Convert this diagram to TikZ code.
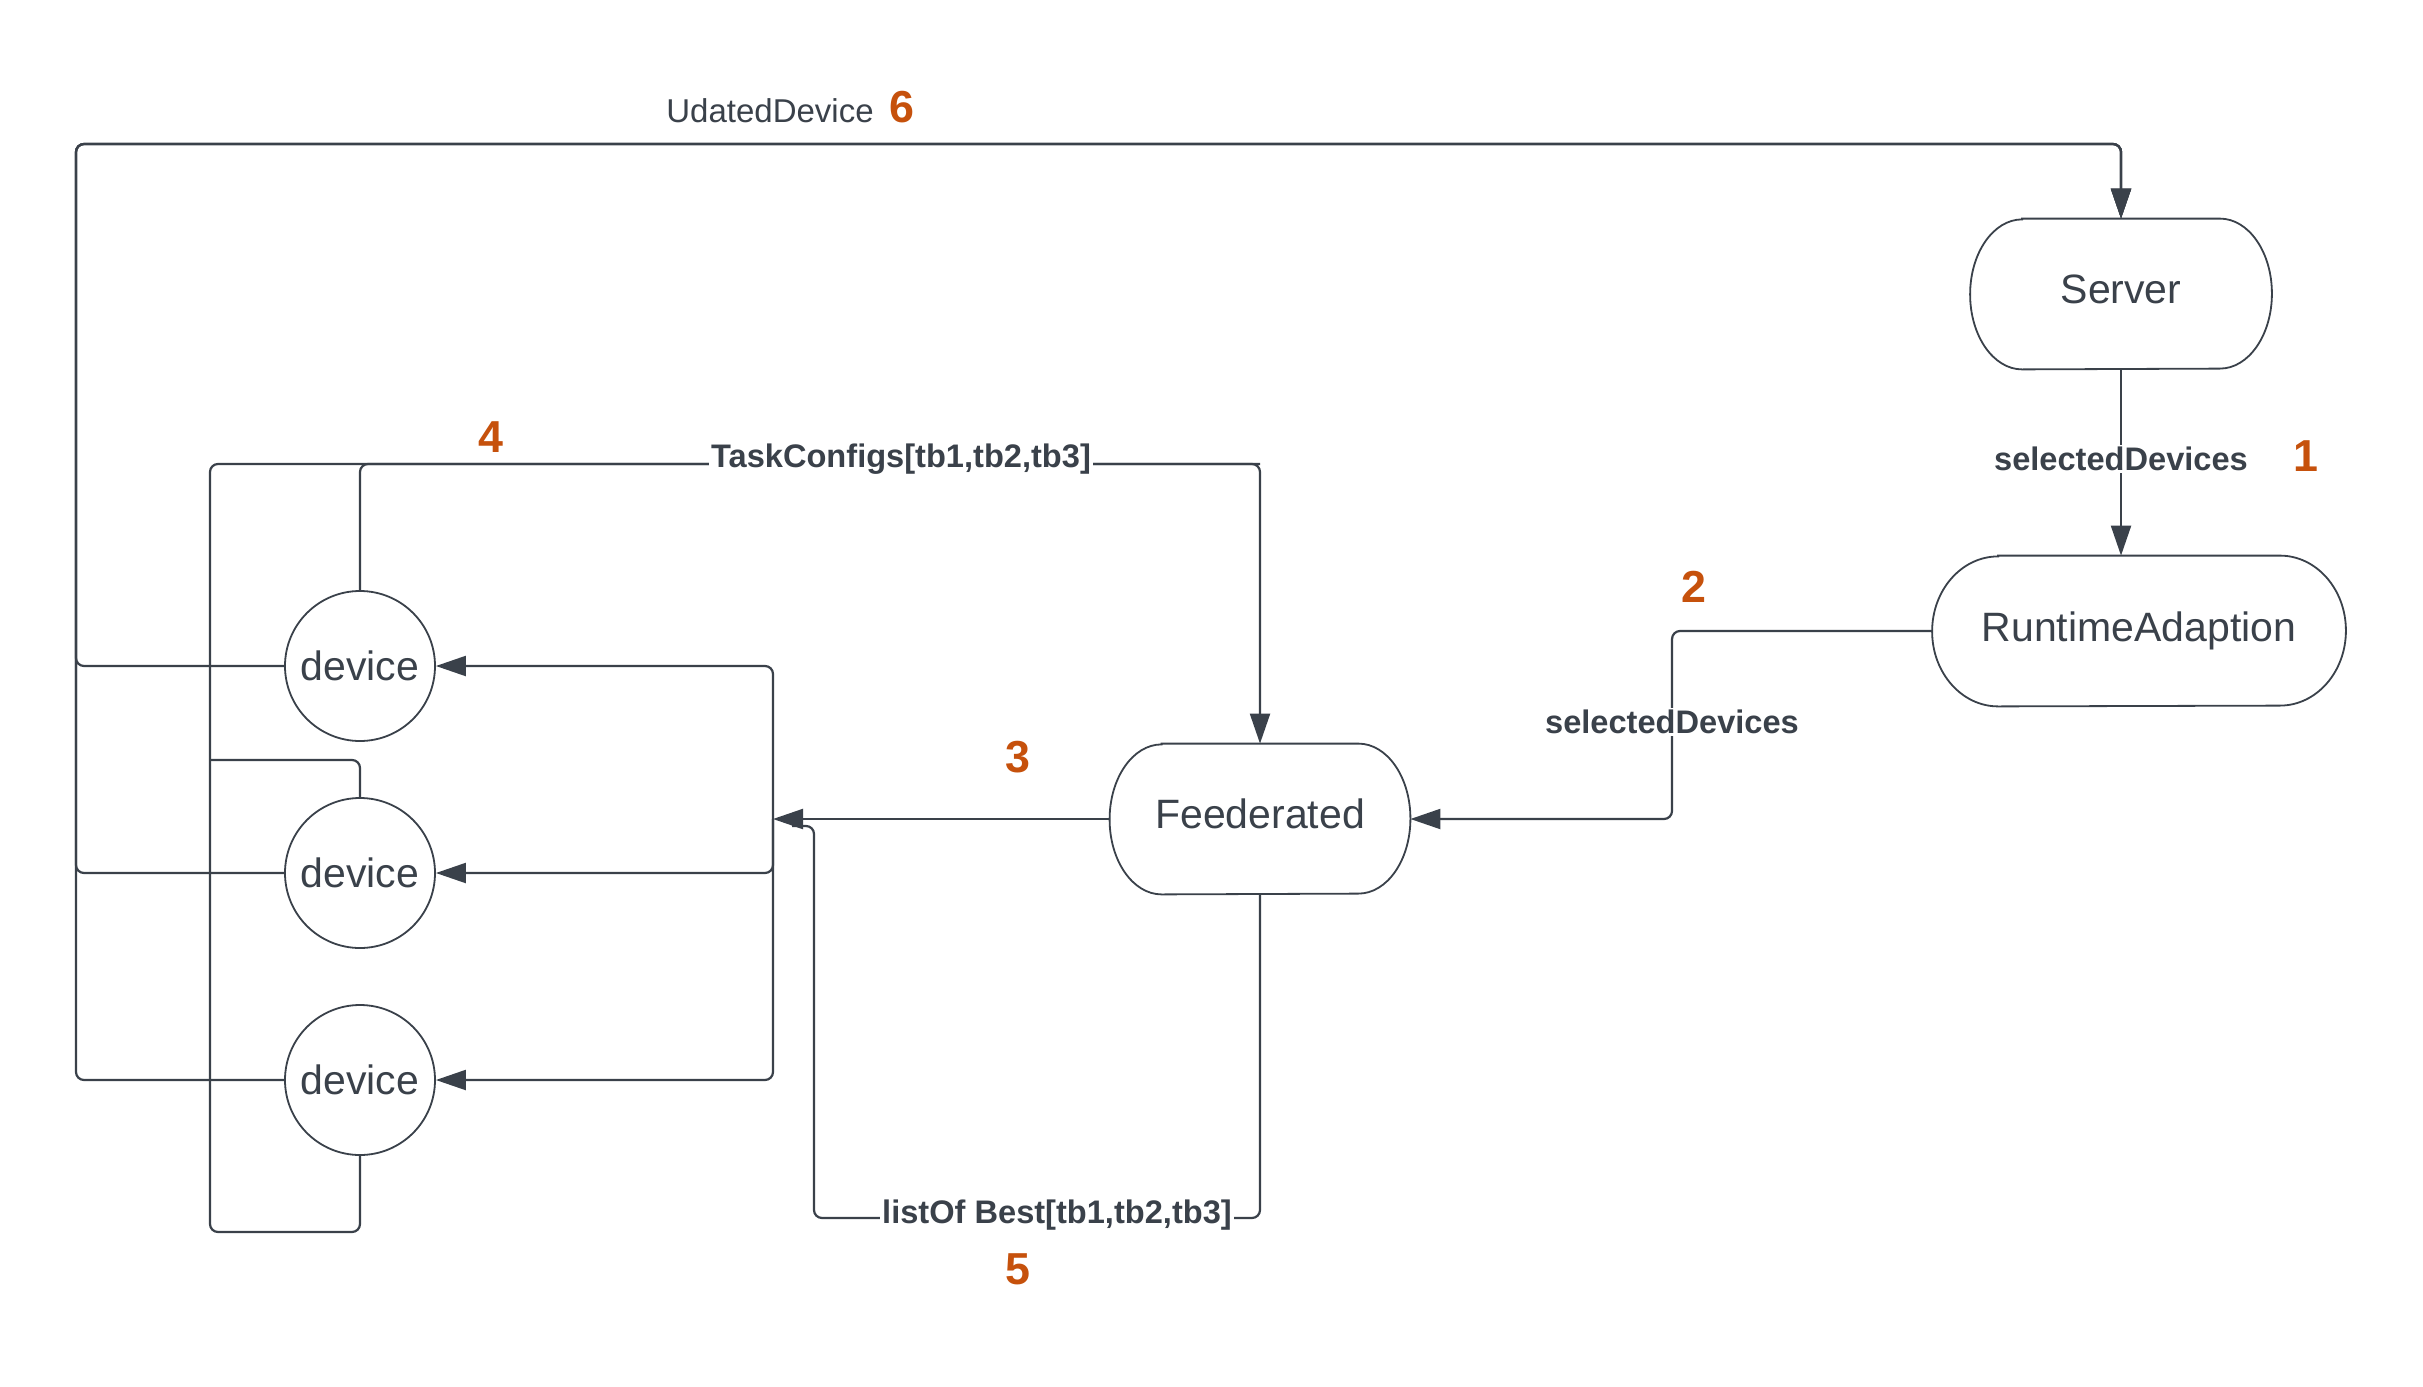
\documentclass[tikz,border=0pt]{standalone}
\usepackage{fontspec}
\setmainfont{Liberation Sans}
\usetikzlibrary{arrows.meta}
\definecolor{ink}{HTML}{3A414A}
\definecolor{stepnum}{HTML}{C6510C}
% outline of a terminator: flat top and bottom, elliptic ends
\newcommand\termoutline[3]{%
  \draw[shapeline] ([xshift=#2]#1.north west) -- ([xshift=-#2]#1.north east)
    arc[start angle=90,end angle=-90,x radius=#2,y radius=#3]
    -- ([xshift=#2]#1.south west)
    arc[start angle=270,end angle=90,x radius=#2,y radius=#3] -- cycle;}
% captions without descenders sit slightly above the middle
\newcommand\liftcap[1]{\raisebox{2.5pt}[\height][\depth]{#1}}
\begin{document}
\begin{tikzpicture}[x=0.5pt,y=-0.5pt,
  shapeline/.style={draw=ink,line width=0.9pt},
  term/.style={minimum height=75pt,inner sep=0pt,text=ink,
    font=\fontsize{20.5}{24}\selectfont},
  dev/.style={circle,draw=ink,line width=0.9pt,minimum size=75pt,inner sep=0pt,
    text=ink,font=\fontsize{20.5}{24}\selectfont},
  conn/.style={draw=ink,line width=1.1pt,rounded corners=4pt},
  arr/.style={conn,-{Triangle[length=15pt,width=10pt]}},
  lbl/.style={fill=white,inner sep=1pt,text=ink,
    font=\fontsize{16.3}{19}\selectfont\bfseries},
  plainlbl/.style={inner sep=1pt,text=ink,font=\fontsize{16.5}{19}\selectfont},
  num/.style={inner sep=0pt,text=stepnum,font=\fontsize{22.4}{26}\selectfont\bfseries}]
\useasboundingbox (0,0) rectangle (2423,1386);
\fill[white] (0,0) rectangle (2423,1386);

% nodes
\node[term,minimum width=150.5pt] (S) at (2121,294) {\liftcap{Server}};
\node[term,minimum width=206.5pt] (R) at (2139,631) {RuntimeAdaption};
\node[term,minimum width=150pt] (F) at (1260,819) {\liftcap{Feederated}};
\termoutline{S}{26pt}{37.5pt}
\termoutline{R}{33pt}{37.5pt}
\termoutline{F}{26pt}{37.5pt}
\node[dev] (d1) at (360,666) {device};
\node[dev] (d2) at (360,873) {device};
\node[dev] (d3) at (360,1080) {device};

% routing points
\coordinate (ud) at (76,144);
\coordinate (jn) at (773,819);
\coordinate (tc) at (1260,464);
\coordinate (bl) at (210,1232);
\coordinate (bm) at (210,760);
\coordinate (rv) at (1672,722);
\coordinate (lb) at (814,1218);
\coordinate (le) at (792,826);

% 6: devices report back to the server
\draw[arr] (d1.west) -| (ud) -| (S.north);
\draw[arr] (d2.west) -| (ud) -| (S.north);
\draw[arr] (d3.west) -| (ud) -| (S.north);

% 1: server to runtime adaption
\draw[arr] (S.south) -- (S.south |- R.north);

% 2: runtime adaption to federated
\draw[arr] (R.west) -| (rv) |- (F.east);

% 3: federated to devices
\draw[arr] (F.west) -- (jn);
\draw[arr] (jn) |- (d1.east);
\draw[arr] (jn) |- (d2.east);
\draw[arr] (jn) |- (d3.east);

% 4: task configs from devices to federated
\draw[arr] (d1.north) |- (tc) -- (F.north);
\draw[conn] (d3.south) |- (bl) |- (tc);
\draw[conn] (d2.north) |- (bm);

% 5: list of best back
\draw[conn] (F.south) |- (lb) |- (le);

% labels
\node[plainlbl] (l6) at (770,111) {UdatedDevice};
\node[num] (n6) at (902,107) {6};
\node[lbl] (l1) at (2121,459) {selectedDevices};
\node[num] (n1) at (2306,456) {1};
\node[num] (n2) at (1694,587) {2};
\node[lbl] (l2) at (rv) {selectedDevices};
\node[num] (n3) at (1018,757) {3};
\node[num] (n4) at (491,437) {4};
\node[lbl] (l4) at (901,459) {TaskConfigs[tb1,tb2,tb3]};
\node[lbl] (l5) at (1057,1215) {listOf Best[tb1,tb2,tb3]};
\node[num] (n5) at (1018,1269) {5};
\end{tikzpicture}
\end{document}
